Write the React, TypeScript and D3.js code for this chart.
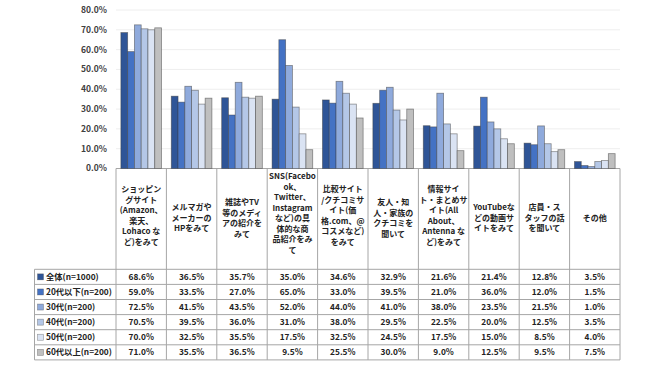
import React from "react";
import * as d3 from "d3";

const categories: string[][] = [
  ["ショッピン", "グサイト", "(Amazon、", "楽天、", "Lohaco な", "ど)をみて"],
  ["メルマガや", "メーカーの", "HPをみて"],
  ["雑誌やTV", "等のメディ", "アの紹介を", "みて"],
  ["SNS(Facebo", "ok、", "Twitter、", "Instagram", "など)の具", "体的な商", "品紹介をみ", "て"],
  ["比較サイト", "/クチコミサ", "イト(価", "格.com、@", "コスメなど)", "をみて"],
  ["友人・知", "人・家族の", "クチコミを", "聞いて"],
  ["情報サイ", "ト・まとめサ", "イト(All", "About、", "Antenna な", "ど)をみて"],
  ["YouTubeな", "どの動画サ", "イトをみて"],
  ["店員・ス", "タッフの話", "を聞いて"],
  ["その他"],
];

const seriesNames = [
  "全体(n=1000)",
  "20代以下(n=200)",
  "30代(n=200)",
  "40代(n=200)",
  "50代(n=200)",
  "60代以上(n=200)",
];

const s0 = [68.6, 36.5, 35.7, 35.0, 34.6, 32.9, 21.6, 21.4, 12.8, 3.5];
const s1 = [59.0, 33.5, 27.0, 65.0, 33.0, 39.5, 21.0, 36.0, 12.0, 1.5];
const s2 = [72.5, 41.5, 43.5, 52.0, 44.0, 41.0, 38.0, 23.5, 21.5, 1.0];
const s3 = [70.5, 39.5, 36.0, 31.0, 38.0, 29.5, 22.5, 20.0, 12.5, 3.5];
const s4 = [70.0, 32.5, 35.5, 17.5, 32.5, 24.5, 17.5, 15.0, 8.5, 4.0];
const s5 = [71.0, 35.5, 36.5, 9.5, 25.5, 30.0, 9.0, 12.5, 9.5, 7.5];
const seriesValues = [s0, s1, s2, s3, s4, s5];

const yTicks = [0, 10, 20, 30, 40, 50, 60, 70, 80];

const colors = ["#2F5597", "#4472C4", "#8FAADC", "#B4C7E7", "#DAE3F3", "#BFBFBF"];

const FONT = "'Noto Sans CJK JP', 'Noto Sans', sans-serif";

export default function App() {
  const W = 650;
  const H = 365;
  const left = 116;
  const right = 620;
  const top = 10;
  const base = 168.5;
  const headerBottom = 269.3;
  const rowH = 15.1;
  const tableLeft = 34.5;

  const x = d3
    .scaleBand<number>()
    .domain(d3.range(categories.length))
    .range([left, right])
    .padding(0);
  const bw = x.bandwidth();
  const xi = d3
    .scaleBand<number>()
    .domain(d3.range(seriesNames.length))
    .range([0, bw])
    .paddingInner(0)
    .paddingOuter(0.72);
  const y = d3.scaleLinear().domain([0, 80]).range([base, top]);

  const lineColor = "#A6A6A6";
  const tableBottom = headerBottom + rowH * seriesNames.length;

  return (
    <svg
      width={W}
      height={H}
      style={{ position: "absolute", left: 0, top: 0 }}
      fontFamily={FONT}
    >
      <rect x={0} y={0} width={W} height={H} fill="#fff" />
      {yTicks.map((t) => (
        <line
          key={"g" + t}
          x1={left}
          x2={right}
          y1={y(t)}
          y2={y(t)}
          stroke={t === 0 ? lineColor : "#EEEEEE"}
          strokeWidth={1}
        />
      ))}
      {yTicks.map((t) => (
        <text
          key={"t" + t}
          x={107}
          y={y(t)}
          dy="0.35em"
          textAnchor="end"
          fontSize={8.5}
          fontWeight="bold"
          fill="#404040"
        >
          {t.toFixed(1) + "%"}
        </text>
      ))}
      {seriesValues.map((vals, si) =>
        vals.map((v, ci) => (
          <rect
            key={`b${si}-${ci}`}
            x={(x(ci) as number) + (xi(si) as number)}
            y={y(v)}
            width={xi.bandwidth()}
            height={base - y(v)}
            fill={colors[si]}
            stroke="#3A3A3A"
            strokeOpacity={0.55}
            strokeWidth={0.8}
          />
        ))
      )}
      <line x1={tableLeft} x2={right} y1={headerBottom} y2={headerBottom} stroke={lineColor} />
      {seriesNames.map((_, ri) => (
        <line
          key={"r" + ri}
          x1={tableLeft}
          x2={right}
          y1={headerBottom + rowH * (ri + 1)}
          y2={headerBottom + rowH * (ri + 1)}
          stroke={lineColor}
        />
      ))}
      <line x1={tableLeft} x2={tableLeft} y1={headerBottom} y2={tableBottom} stroke={lineColor} />
      {d3.range(categories.length + 1).map((i) => {
        const xx = i === categories.length ? right : (x(i) as number);
        return (
          <line key={"v" + i} x1={xx} x2={xx} y1={base} y2={tableBottom} stroke={lineColor} />
        );
      })}
      {categories.map((lines, ci) => {
        const cx = (x(ci) as number) + bw / 2;
        const lh = 10.5;
        const n = lines.length;
        const cy = 218 - Math.max(0, n - 4) * 1.2;
        const startY = cy - ((n - 1) * lh) / 2;
        return (
          <g key={"c" + ci}>
            {lines.map((l, li) => (
              <text
                key={li}
                x={cx}
                y={startY + li * lh}
                dy="0.35em"
                textAnchor="middle"
                fontSize={8}
                fontWeight="bold"
                fill="#222"
              >
                {l}
              </text>
            ))}
          </g>
        );
      })}
      {seriesNames.map((name, ri) => {
        const cy = headerBottom + rowH * ri + rowH / 2;
        return (
          <g key={"row" + ri}>
            <rect
              x={37.5}
              y={cy - 3}
              width={6}
              height={6}
              fill={colors[ri]}
              stroke="#3A3A3A"
              strokeOpacity={0.5}
              strokeWidth={0.6}
            />
            <text x={46} y={cy} dy="0.35em" fontSize={8.3} fontWeight="bold" fill="#222">
              {name}
            </text>
            {seriesValues[ri].map((v, ci) => (
              <text
                key={ci}
                x={(x(ci) as number) + bw / 2}
                y={cy}
                dy="0.35em"
                textAnchor="middle"
                fontSize={8.3}
                fontWeight="bold"
                fill="#222"
              >
                {v.toFixed(1) + "%"}
              </text>
            ))}
          </g>
        );
      })}
    </svg>
  );
}
